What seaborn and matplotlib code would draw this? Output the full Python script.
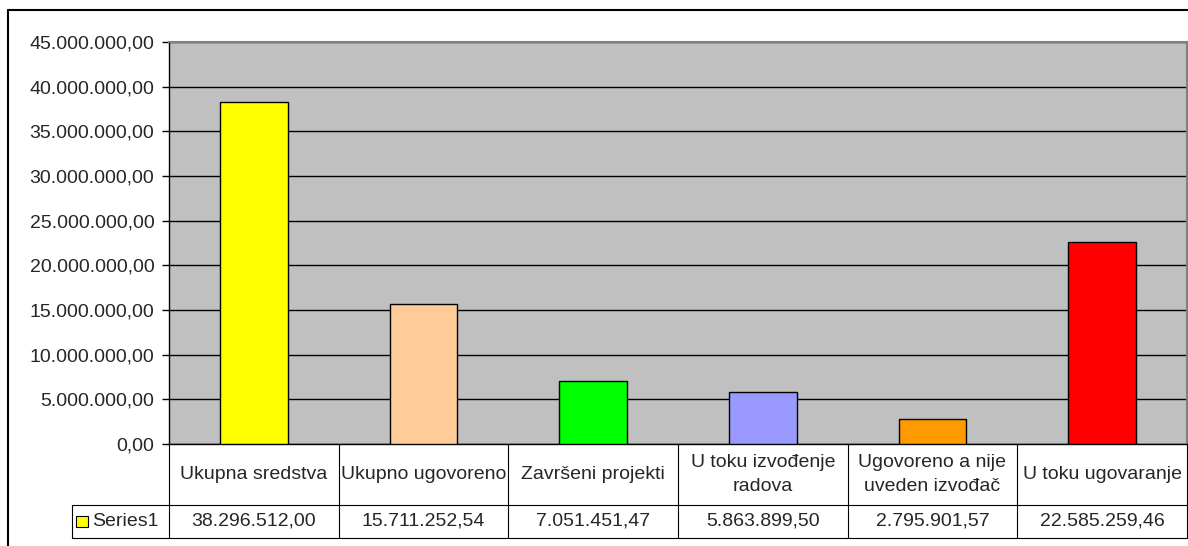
import matplotlib
matplotlib.use("Agg")
import matplotlib.pyplot as plt
import matplotlib.ticker as mticker
from matplotlib.lines import Line2D
from matplotlib.patches import Rectangle
import pandas as pd
import seaborn as sns

# data
categories = [
    "Ukupna sredstva",
    "Ukupno ugovoreno",
    "Završeni projekti",
    "U toku izvođenje\nradova",
    "Ugovoreno a nije\nuveden izvođač",
    "U toku ugovaranje",
]
values = [38296512.00, 15711252.54, 7051451.47, 5863899.50, 2795901.57, 22585259.46]
bar_colors = ["#FFFF00", "#FFCC99", "#00FF00", "#9999FF", "#FF9900", "#FF0000"]
series_name = "Series1"
y_ticks = [0, 5e6, 10e6, 15e6, 20e6, 25e6, 30e6, 35e6, 40e6, 45e6]


def fmt_num(v, pos=None):
    s = f"{v:,.2f}"
    return s.replace(",", "X").replace(".", ",").replace("X", ".")


W, H = 1188, 546
sns.set_style("white")
plt.rcParams["font.family"] = ["Liberation Sans", "DejaVu Sans"]
FS = 14

fig = plt.figure(figsize=(W / 100, H / 100), dpi=100)
fig.patch.set_facecolor("white")

# plot area in pixel coords
px_l, px_r, px_t, px_b = 169, 1187, 42, 444
ax = fig.add_axes([px_l / W, 1 - px_b / H, (px_r - px_l) / W, (px_b - px_t) / H])

df = pd.DataFrame({"cat": categories, "val": values})
sns.barplot(
    data=df,
    x="cat",
    y="val",
    hue="cat",
    palette=bar_colors,
    legend=False,
    width=0.4,
    edgecolor="black",
    linewidth=1,
    saturation=1,
    ax=ax,
    zorder=3,
)

ax.set_facecolor("#C0C0C0")
ax.set_xlim(-0.5, len(categories) - 0.5)
ax.set_ylim(0, 45e6)
ax.set_yticks(y_ticks)
ax.yaxis.set_major_formatter(mticker.FuncFormatter(fmt_num))
ax.yaxis.grid(True, color="black", linewidth=1)
ax.set_axisbelow(True)
ax.set_xticks([])
ax.set_xlabel("")
ax.set_ylabel("")
ax.tick_params(axis="y", direction="out", length=5, width=1, color="black",
               labelsize=FS, pad=5.5, left=True)
for side in ["top", "right"]:
    ax.spines[side].set_color("#808080")
    ax.spines[side].set_linewidth(1.5)
for side in ["left", "bottom"]:
    ax.spines[side].set_color("black")
    ax.spines[side].set_linewidth(1)
    ax.spines[side].set_visible(True)

# data table under the plot
tr = ax.get_xaxis_transform()
ax_h = px_b - px_t
row1 = (505 - px_b) / ax_h
row2 = (538 - px_b) / ax_h
label_left = -0.5 - (px_l - 72) / ((px_r - px_l) / len(categories))
line_kw = dict(color="black", linewidth=0.8, transform=tr, clip_on=False)

n = len(categories)
for i in range(n + 1):
    ax.add_line(Line2D([i - 0.5, i - 0.5], [0, -row2], **line_kw))
ax.add_line(Line2D([label_left, n - 0.5], [-row1, -row1], **line_kw))
ax.add_line(Line2D([label_left, n - 0.5], [-row2, -row2], **line_kw))
ax.add_line(Line2D([label_left, label_left], [-row1, -row2], **line_kw))

for i, (cat, val) in enumerate(zip(categories, values)):
    ax.text(i, -row1 / 2, cat, transform=tr, ha="center", va="center",
            fontsize=FS, linespacing=1.55, clip_on=False)
    ax.text(i, -(row1 + row2) / 2, fmt_num(val), transform=tr, ha="center",
            va="center", fontsize=FS, clip_on=False)

# legend key in the row label cell
key_w = 0.07
key_h = 11 / ax_h
ax.add_patch(Rectangle((label_left + 0.025, -(row1 + row2) / 2 - key_h / 2), key_w, key_h,
                       facecolor=bar_colors[0], edgecolor="black", linewidth=0.8,
                       transform=tr, clip_on=False))
ax.text(label_left + 0.025 + key_w + 0.025, -(row1 + row2) / 2, series_name,
        transform=tr, ha="left", va="center", fontsize=FS, clip_on=False)

# outer chart border (left and top only visible)
fig.add_artist(Line2D([8 / W, 8 / W], [0, 1 - 10 / H], color="black", linewidth=1.5,
                      transform=fig.transFigure))
fig.add_artist(Line2D([8 / W, 1], [1 - 10 / H, 1 - 10 / H], color="black", linewidth=1.5,
                      transform=fig.transFigure))

fig.savefig("out.png", dpi=100)
